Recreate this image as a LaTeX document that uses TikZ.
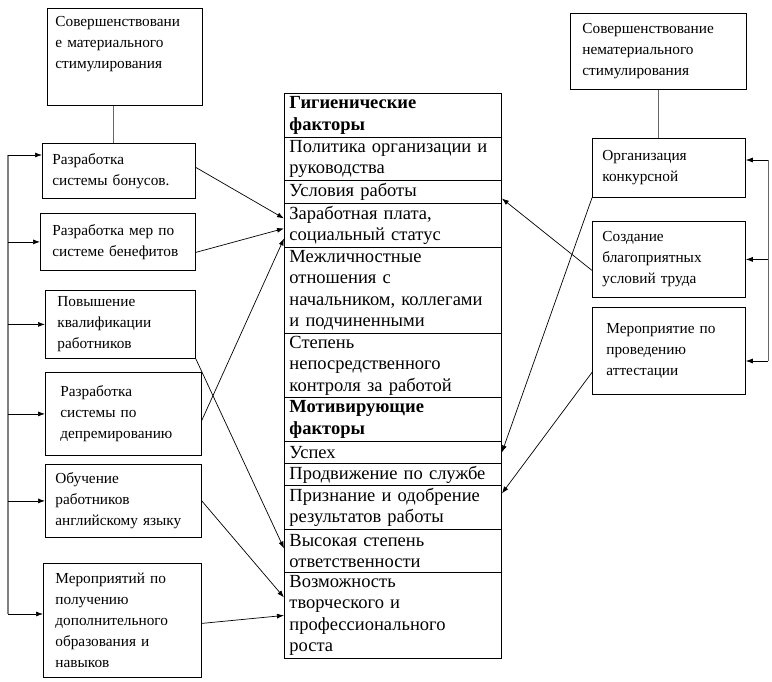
\documentclass[tikz,border=0pt]{standalone}
\usepackage{fontspec}
\setmainfont{Liberation Serif}
\usetikzlibrary{arrows.meta}
\hyphenpenalty=10000

\tikzset{
  sidebox/.style={draw, line width=0.8pt, anchor=north west, align=left, inner xsep=0pt, inner ysep=1pt,
    font=\fontsize{15.3}{21}\selectfont},
  row/.style={draw, line width=0.9pt, anchor=north west, align=left, text width=207pt, minimum width=217pt,
    inner xsep=5pt, inner ysep=0.5pt, font=\fontsize{18.5}{21.5}\selectfont},
  bus/.style={draw=gray, line width=1.6pt},
  stem/.style={draw=gray!80!black, line width=1pt},
}

\begin{document}
\begin{tikzpicture}[x=1pt, y=-1pt, >={Latex[length=7pt,width=5pt]}, line width=0.7pt]
  \useasboundingbox (0,0) rectangle (772,681);

  % left column
  \node[sidebox, text width=139pt, minimum width=155pt, minimum height=97pt, text depth=70pt] (mat) at (47,8)
    {Совершенствовани\\е материального\\стимулирования};
  \node[sidebox, text width=133pt, minimum width=153pt, minimum height=55pt] (bonus) at (42,143)
    {Разработка\\системы бонусов.};
  \node[sidebox, text width=131pt, minimum width=155pt, minimum height=57pt] (ben) at (40,213)
    {Разработка мер по\\системе бенефитов};
  \node[sidebox, text width=126pt, minimum width=150pt, minimum height=68pt] (qual) at (45,290)
    {Повышение\\квалификации\\работников};
  \node[sidebox, text width=126pt, minimum width=156pt, minimum height=83pt] (deprem) at (45,372)
    {Разработка\\системы по\\депремированию};
  \node[sidebox, text width=136pt, minimum width=156pt, minimum height=73pt] (eng) at (45,464)
    {Обучение\\работников\\английскому языку};
  \node[sidebox, text width=134pt, minimum width=158pt, minimum height=114pt] (dop) at (43,563)
    {Мероприятий по\\получению\\дополнительного\\образования и\\навыков};

  % right column
  \node[sidebox, text width=152pt, minimum width=176pt, minimum height=76pt] (nonmat) at (570,13)
    {Совершенствование\\нематериального\\стимулирования};
  \node[sidebox, text width=133pt, minimum width=153pt, minimum height=59pt] (org) at (592,138)
    {Организация\\конкурсной};
  \node[sidebox, text width=133pt, minimum width=153pt, minimum height=76pt] (create) at (592,221)
    {Создание\\благоприятных\\условий труда};
  \node[sidebox, text width=125pt, minimum width=153pt, minimum height=87pt] (attest) at (592,307)
    {Мероприятие по\\проведению\\аттестации};

  % factor table
  \node[row, minimum height=44pt] (hyg) at (284,93) {\textbf{Гигиенические}\\\textbf{факторы}};
  \node[row, minimum height=43pt] (policy) at (284,137) {Политика организации и\\руководства};
  \node[row, minimum height=23pt] (cond) at (284,180) {Условия работы};
  \node[row, minimum height=44pt] (wage) at (284,203) {Заработная плата,\\социальный статус};
  \node[row, minimum height=86pt] (rel) at (284,247)
    {Межличностные\\отношения с\\начальником, коллегами\\и подчиненными};
  \node[row, minimum height=64pt] (ctrl) at (284,333) {Степень\\непосредственного\\контроля за работой};
  \node[row, minimum height=44pt] (mot) at (284,397) {\textbf{Мотивирующие}\\\textbf{факторы}};
  \node[row, minimum height=22pt] (success) at (284,441) {Успех};
  \node[row, minimum height=22pt] (promo) at (284,463) {Продвижение по службе};
  \node[row, minimum height=44pt] (recog) at (284,485) {Признание и одобрение\\результатов работы};
  \node[row, minimum height=43pt] (resp) at (284,529) {Высокая степень\\ответственности};
  \node[row, minimum height=86pt] (growth) at (284,572)
    {Возможность\\творческого и\\профессионального\\роста};

  % stems from the headings
  \draw[stem] ([xshift=-11.5pt]mat.south) -- ([xshift=-11.5pt]mat.south |- bonus.north);
  \draw[stem] (nonmat.south) -- (nonmat.south |- org.north);

  % left bus
  \coordinate (lbtop) at (8,155);
  \coordinate (lbbot) at (8,614);
  \draw[bus] (lbtop) -- (lbbot);
  \draw[->] (lbtop) -- (lbtop -| bonus.west);
  \foreach \b in {ben,qual,deprem,eng}
    \draw[->] (lbtop |- \b.west) -- (\b.west);
  \draw[->] (lbbot) -- (lbbot -| dop.west);

  % right bus
  \coordinate (rbtop) at (768,160);
  \coordinate (rbbot) at (768,361);
  \draw[stem] (rbtop) -- (rbbot);
  \draw[->] (rbtop) -- (rbtop -| org.east);
  \draw[->] (rbtop |- create.east) -- (create.east);
  \draw[->] (rbbot) -- (rbbot -| attest.east);

  % links into the table
  \path[->] ([yshift=3.5pt]bonus.east) edge ([yshift=7pt]wage.west);
  \path[->] ([yshift=-10.5pt]ben.east) edge ([yshift=-3pt]wage.west);
  \path[->] ([yshift=-6.5pt]deprem.east) edge ([yshift=-13pt]wage.west);
  \path[->] (qual.south east) edge ([yshift=2.5pt]resp.west);
  \path[->] (eng.east) edge ([yshift=18pt]growth.west);
  \path[->] ([yshift=-3pt]dop.east) edge (growth.west);
  \path[->] (org.south west) edge (success.east);
  \path[->] ([yshift=-11pt]create.west) edge ([yshift=-6.5pt]cond.east);
  \path[->] ([yshift=-21.5pt]attest.west) edge ([yshift=14pt]recog.east);
\end{tikzpicture}
\end{document}
